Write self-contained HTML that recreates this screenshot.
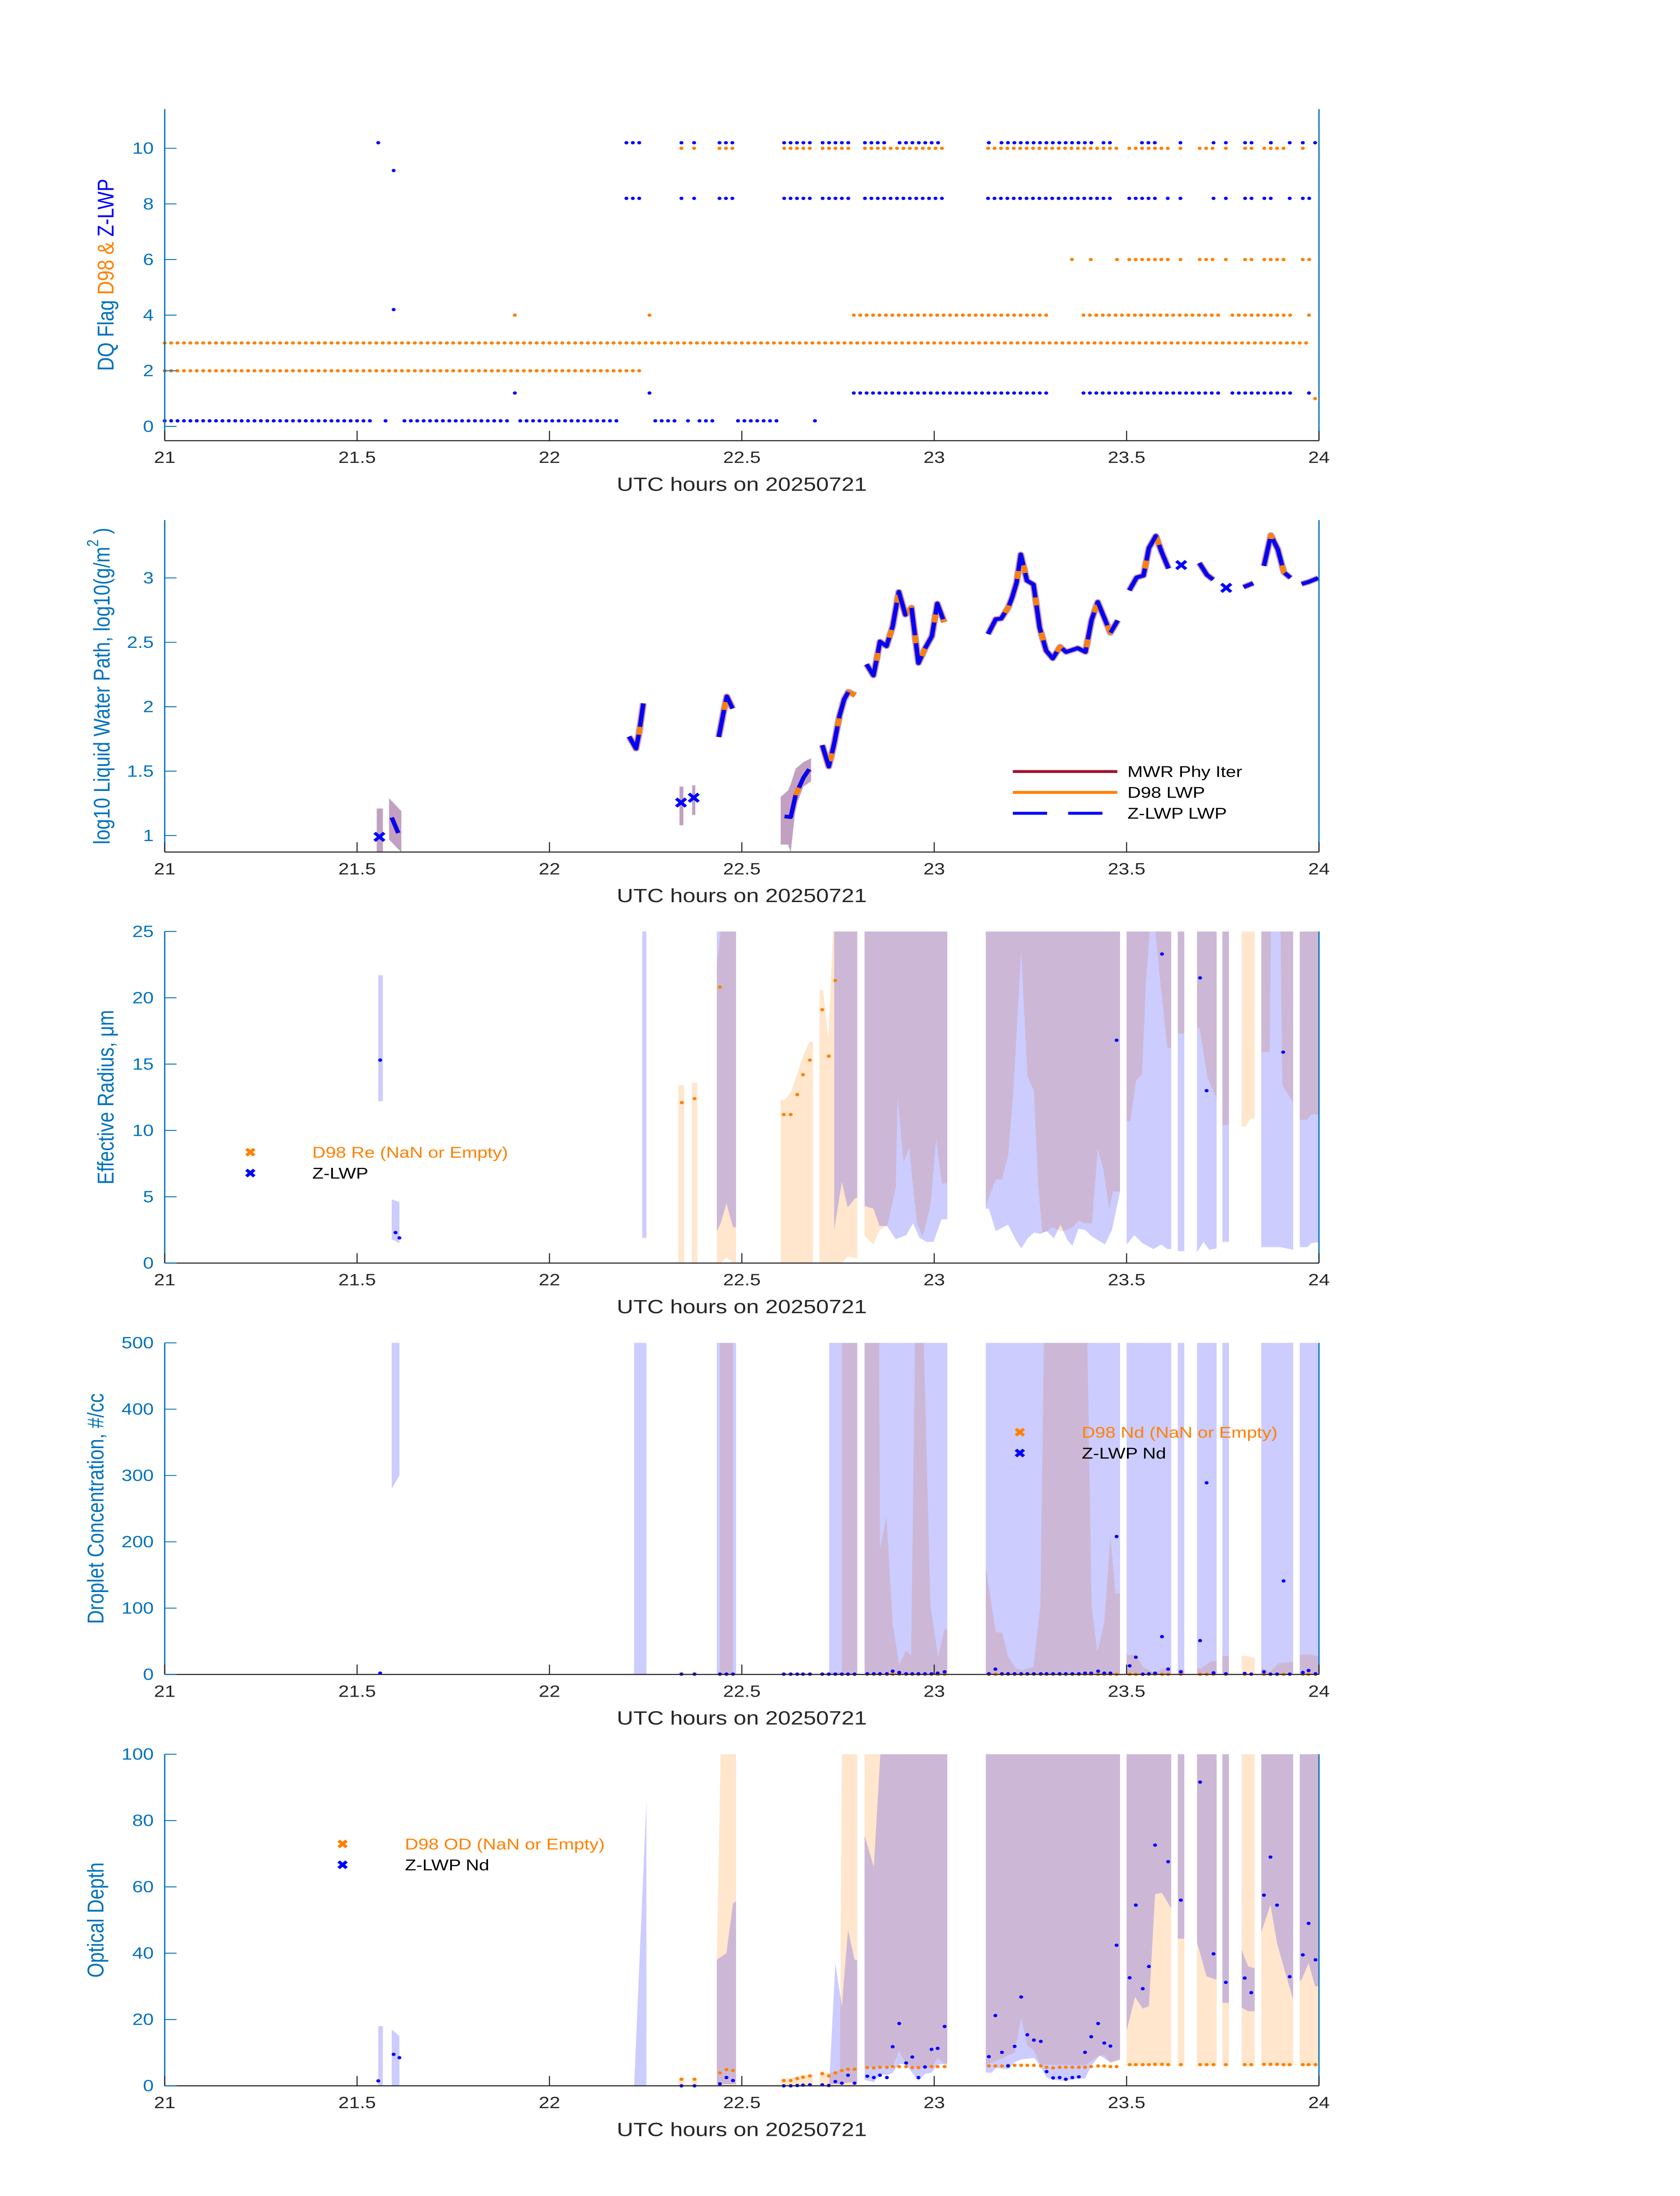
<!DOCTYPE html>
<html><head><meta charset="utf-8"><meta name="viewport" content="width=3825"><title>Cloud retrieval DQ, LWP, Re, Nd and OD</title>
<style>
html,body{margin:0;padding:0;background:#fff;width:100%;height:100%;overflow:hidden;}
svg{display:block;width:100vw;height:100vh;font-family:"Liberation Sans","DejaVu Sans",sans-serif;}
</style></head>
<body>
<svg id="fig" xmlns="http://www.w3.org/2000/svg" viewBox="0 0 3825 6000" preserveAspectRatio="none">
<rect x="0" y="0" width="3825" height="6000" fill="#fff"/>
</svg>
<script>
// ---------- shared axis ----------
const xTicks = [21, 21.5, 22, 22.5, 23, 23.5, 24];
const xTickLabels = ["21", "21.5", "22", "22.5", "23", "23.5", "24"];

// ---------- panel 1: DQ flags (runs of 1-minute samples, [start,end] hours) ----------
const dqBlue102 = [[21.555,21.555],[22.2,22.24],[22.343,22.343],[22.376,22.376],[22.442,22.476],[22.61,22.68],[22.71,22.79],[22.82,22.87],[22.91,23.01],[23.142,23.142],[23.175,23.41],[23.44,23.46],[23.54,23.575],[23.64,23.64],[23.726,23.726],[23.758,23.758],[23.808,23.825],[23.875,23.89],[23.924,23.924],[23.958,23.958],[23.99,23.99]];
const dqOrange10 = [[22.343,22.343],[22.376,22.376],[22.442,22.476],[22.61,22.68],[22.71,22.79],[22.82,23.02],[23.14,23.477],[23.507,23.607],[23.64,23.64],[23.69,23.724],[23.758,23.758],[23.808,23.825],[23.858,23.924],[23.958,23.974]];
const dqBlue92 = [[21.595,21.61]];
const dqBlue82 = [[22.2,22.24],[22.343,22.343],[22.376,22.376],[22.442,22.476],[22.61,22.68],[22.71,22.79],[22.82,23.02],[23.14,23.46],[23.507,23.575],[23.607,23.607],[23.64,23.64],[23.726,23.726],[23.758,23.758],[23.808,23.825],[23.858,23.89],[23.924,23.924],[23.958,23.99]];
const dqOrange6 = [[23.358,23.358],[23.407,23.407],[23.475,23.475],[23.507,23.607],[23.64,23.64],[23.69,23.724],[23.758,23.758],[23.808,23.825],[23.858,23.924],[23.958,23.99]];
const dqBlue42 = [[21.595,21.61]];
const dqOrange4 = [[21.91,21.91],[22.26,22.26],[22.791,23.292],[23.388,23.744],[23.775,23.94],[23.974,23.99]];
const dqOrange3 = [[21.0,23.97]];
const dqOrange2 = [[21.0,22.24]];
const dqBlue12 = [[21.91,21.91],[22.26,22.26],[22.791,23.292],[23.388,23.744],[23.775,23.94],[23.974,23.99]];
const dqOrange1 = [[23.99,23.99]];
const dqBlue02 = [[21.0,21.54],[21.574,21.574],[21.623,21.893],[21.924,22.19],[22.275,22.33],[22.36,22.36],[22.39,22.425],[22.49,22.59],[22.69,22.69]];
const dqLevels = [10.2, 10, 9.2, 8.2, 6, 4.2, 4, 3, 2, 1.2, 1.0, 0.2];
const dqYTicks = [0, 2, 4, 6, 8, 10];

// ---------- panel 2: log10 LWP ----------
const lwpT = [21.59,21.607,null,22.207,22.225,22.233,22.244,null,22.44,22.454,22.461,22.476,null,22.611,22.627,22.64,22.66,22.675,null,22.709,22.726,22.74,22.754,22.766,22.777,22.795,null,22.824,22.842,22.851,22.859,22.876,22.892,22.908,22.925,22.941,22.959,22.977,22.994,23.008,23.026,null,23.14,23.16,23.174,23.193,23.203,23.214,23.225,23.241,23.258,23.274,23.291,23.308,23.327,23.343,23.373,23.393,23.409,23.425,23.458,23.477,null,23.507,23.526,23.544,23.558,23.576,23.591,23.609,null,23.689,23.709,23.725,null,23.804,23.829,null,23.857,23.875,23.893,23.909,23.926,null,23.955,23.973,23.998];
const lwpV = [1.14,1.02,null,1.769,1.675,1.796,2.026,null,1.765,1.98,2.08,1.986,null,1.149,1.143,1.316,1.448,1.515,null,1.702,1.536,1.714,1.932,2.058,2.116,2.09,null,2.33,2.243,2.376,2.506,2.47,2.624,2.892,2.714,2.769,2.339,2.457,2.548,2.801,2.656,null,2.564,2.68,2.684,2.774,2.853,2.963,3.182,2.979,2.949,2.614,2.435,2.375,2.465,2.425,2.455,2.425,2.674,2.813,2.574,2.67,null,2.903,3.003,3.019,3.232,3.326,3.202,3.073,null,3.116,3.023,2.987,null,2.929,2.959,null,3.093,3.332,3.222,3.043,3.001,null,2.953,2.969,2.999];
const lwpSingleT = [21.558, 22.342, 22.375, 23.642, 23.759];
const lwpSingleV = [0.99, 1.256, 1.294, 3.1, 2.923];
const lwpBandT = [21.551,21.567,null,21.583,21.615,null,22.338,22.348,null,22.371,22.379,null,22.601,22.62,22.627,22.64,22.66,22.68];
const lwpBandLo = [0.87,0.87,null,0.97,0.87,null,1.08,1.08,null,1.16,1.16,null,0.93,0.93,0.87,1.22,1.38,1.42];
const lwpBandHi = [1.21,1.21,null,1.29,1.19,null,1.38,1.38,null,1.39,1.39,null,1.3,1.35,1.4,1.52,1.57,1.6];
const lwpYTicks = [1, 1.5, 2, 2.5, 3];
const lwpYTickLabels = ["1", "1.5", "2", "2.5", "3"];

// ---------- shared retrieval times (panels 3-5 dots) ----------
const retrT = [22.343,22.377,22.443,22.46,22.477,22.609,22.627,22.644,22.659,22.677,22.709,22.726,22.743,22.76,22.776,22.793,22.826,22.843,22.859,22.877,22.892,22.909,22.927,22.943,22.959,22.976,22.993,23.009,23.027,23.142,23.159,23.176,23.192,23.209,23.226,23.242,23.259,23.277,23.292,23.309,23.326,23.342,23.359,23.376,23.392,23.408,23.426,23.442,23.458,23.474,23.508,23.524,23.542,23.558,23.574,23.592,23.608,23.641,23.691,23.708,23.726,23.758,23.807,23.824,23.857,23.874,23.891,23.908,23.924,23.958,23.973,23.991];

// ---------- panel 3: effective radius ----------
const reBandBT = [21.555,21.567,null,21.59,21.61,null,22.241,22.252,null,22.435,22.445,22.46,22.477,22.485,null,22.74,22.76,22.775,22.795,22.80,null,22.819,22.842,22.858,22.877,22.9,22.927,22.945,22.962,22.98,22.998,23.019,23.034,null,23.134,23.142,23.16,23.192,23.212,23.226,23.244,23.259,23.276,23.293,23.311,23.328,23.346,23.359,23.375,23.392,23.41,23.444,23.462,23.483,null,23.5,23.52,23.541,23.57,23.59,23.606,23.616,null,23.633,23.65,null,23.683,23.7,23.715,23.734,null,23.749,23.766,null,23.85,23.9,23.933,null,23.95,23.97,23.98,23.99,24.0];
const reBandBLo = [12.2,12.2,null,1.8,1.5,null,1.9,1.9,null,2.4,3.0,4.5,2.7,2.7,null,2.5,6.1,4.2,4.9,4.9,null,4.3,4.1,2.8,2.8,1.8,2.1,3.0,1.9,1.6,1.6,3.3,3.3,null,4.1,4.1,2.4,2.9,1.75,1.1,1.9,2.3,2.2,2.4,1.85,2.9,1.75,1.3,2.6,2.5,2.0,1.4,2.5,5.4,null,1.4,2.1,1.5,1.05,1.4,1.05,1.05,null,0.9,0.9,null,0.8,1.6,1.0,1.1,null,1.6,1.6,null,1.2,1.2,1.0,null,1.2,1.2,1.5,1.55,1.55];
const reBandBHi = [21.7,21.7,null,4.8,4.6,null,25,25,null,25,25,25,25,25,null,25,25,25,25,25,null,25,25,25,25,25,25,25,25,25,25,25,25,null,25,25,25,25,25,25,25,25,25,25,25,25,25,25,25,25,25,25,25,25,null,25,25,25,25,25,25,25,null,25,25,null,25,25,25,25,null,25,25,null,25,25,25,null,25,25,25,25,25];
const reBandOT = [22.335,22.35,null,22.37,22.384,null,22.435,22.445,22.46,22.477,22.485,null,22.601,22.611,22.628,22.659,22.676,22.685,null,22.702,22.711,22.725,22.737,22.74,22.76,22.775,22.80,null,22.819,22.842,22.858,22.877,22.883,22.9,22.905,22.92,22.935,22.955,22.97,22.99,23.005,23.02,23.034,null,23.134,23.16,23.176,23.192,23.205,23.226,23.242,23.259,23.27,23.281,23.293,23.305,23.33,23.346,23.36,23.376,23.39,23.41,23.425,23.44,23.455,23.465,23.483,null,23.5,23.51,23.525,23.54,23.55,23.56,23.575,23.59,23.606,23.616,null,23.633,23.65,null,23.683,23.69,23.71,23.734,null,23.749,23.766,null,23.799,23.81,23.822,23.833,null,23.85,23.872,23.875,23.9,23.905,23.933,null,23.95,23.97,23.98,24.0];
const reBandOLo = [0,0,null,0,0,null,0,0,0.45,0,0,null,0,0,0,0,0,0,null,0,0,0,0,0,0,0.5,0.35,null,2.05,1.4,2.5,2.8,3.4,5.7,12.5,7.6,8.7,3.0,2.0,4.3,9.3,6.0,6.0,null,4.3,6.3,6.3,8.1,12.6,23.6,14.1,13.0,6,2.3,2.4,2.7,2.4,2.5,2.7,3.2,3.0,3.0,8.6,7.0,4.1,5.4,5.4,null,10.7,10.7,13.8,14.2,21,25,25,20.5,16.2,16.2,null,17.3,17.3,null,17.7,17.7,14,12.4,null,10.4,10.4,null,10.3,10.3,10.9,10.9,null,15.9,15.9,25,25,13.4,12.1,null,10.8,10.8,11.2,11.2];
const reBandOHi = [13.4,13.4,null,13.6,13.6,null,22.5,25,25,25,25,null,12.3,12.3,12.9,15.6,16.7,16.7,null,20.6,20.6,16.9,25,25,25,25,25,null,25,25,25,25,25,25,25,25,25,25,25,25,25,25,25,null,25,25,25,25,25,25,25,25,25,25,25,25,25,25,25,25,25,25,25,25,25,25,25,null,25,25,25,25,25,25,25,25,25,25,null,25,25,null,25,25,25,25,null,25,25,null,25,25,25,25,null,25,25,25,25,25,25,null,25,25,25,25];
const reOrangeT = [22.344,22.377,22.443,22.609,22.627,22.644,22.659,22.677,22.709,22.726,22.743];
const reOrangeV = [12.1,12.4,20.8,11.2,11.2,12.7,14.2,15.3,19.1,15.6,21.3];
const reBlueT = [21.56,21.6,21.61,23.474,23.592,23.691,23.708,23.907];
const reBlueV = [15.3,2.3,1.9,16.8,23.3,21.5,13.0,15.9];
const reYTicks = [0, 5, 10, 15, 20, 25];

// ---------- panel 4: droplet concentration ----------
const ndBandBT = [21.59,21.61,null,22.22,22.252,null,22.435,22.485,null,22.727,22.80,null,22.819,23.034,null,23.134,23.483,null,23.5,23.616,null,23.633,23.65,null,23.683,23.734,null,23.749,23.766,null,23.85,23.933,null,23.95,24.0];
const ndBandBLo = [280,300,null,0,0,null,0,0,null,0,0,null,0,0,null,0,0,null,0,0,null,0,0,null,0,0,null,0,0,null,0,0,null,0,0];
const ndBandBHi = [500,500,null,500,500,null,500,500,null,500,500,null,500,500,null,500,500,null,500,500,null,500,500,null,500,500,null,500,500,null,500,500,null,500,500];
const ndBandOT = [22.335,22.35,null,22.37,22.384,null,22.443,22.477,null,22.601,22.685,null,22.702,22.757,null,22.76,22.80,null,22.819,22.857,22.859,22.876,22.892,22.909,22.927,22.94,22.95,22.973,22.99,23.01,23.027,23.034,null,23.134,23.16,23.177,23.192,23.212,23.229,23.243,23.258,23.276,23.285,23.398,23.409,23.424,23.442,23.458,23.471,23.483,null,23.5,23.522,23.543,23.572,23.592,23.616,null,23.633,23.65,null,23.683,23.693,23.72,23.734,null,23.749,23.766,null,23.799,23.833,null,23.85,23.87,23.895,23.933,null,23.95,23.975,24.0];
const ndBandOLo = [0,0,null,0,0,null,0,0,null,0,0,null,0,0,null,0,0,null,0,0,0,0,0,0,0,0,0,0,0,0,0,0,null,0,0,0,0,0,0,0,0,0,0,0,0,0,0,0,0,0,null,0,0,0,0,0,0,null,0,0,null,0,0,0,0,null,0,0,null,0,0,null,0,0,0,0,null,0,0,0];
const ndBandOHi = [3,3,null,3,3,null,500,500,null,3,3,null,3,3,null,500,500,null,500,500,189,238,76,15,36,28,500,500,105,27,68,68,null,161,64,63,27,9,6,9,11,105,500,500,105,34,78,208,122,122,null,29,30,11,2,8,13,null,8,8,null,9,9,20,20,null,28,28,null,29,25,null,11,3,17,19,null,30,30,27];
const ndBlueV = [0.5,0.5,0.5,0.5,0.5,0.5,0.5,0.5,0.5,0.5,0.5,0.5,0.5,0.5,0.5,0.5,1,1,1,1,5,3,1,1,1,1,1,2,4,1,8,1,1,1,1,1,1,1,1,1,1,1,1,1,2,2,5,2,2,208,13,26,0.5,1,2,57,8,4,51,289,2.5,1,1.5,0.5,4,0.5,0.5,141,0.5,3,6,1];
const ndOrangeV = [0.3,0.3,0.3,0.3,0.3,0.3,0.3,0.3,0.3,0.3,0.3,0.3,0.3,0.3,0.3,0.3,0.3,0.3,0.3,0.3,0.3,0.3,0.3,0.3,0.3,0.3,0.3,0.3,0.3,0.3,0.3,0.3,0.3,0.3,0.3,0.3,0.3,0.3,0.3,0.3,0.3,0.3,0.3,0.3,0.3,0.3,0.3,0.3,0.3,0.3,0.3,0.3,0.3,0.3,0.3,0.3,0.3,0.3,0.3,0.3,0.3,0.3,0.3,0.3,0.3,0.3,0.3,0.3,0.3,0.3,0.3,0.3];
const ndEarlyT = [21.56];
const ndEarlyV = [2];
const ndYTicks = [0, 100, 200, 300, 400, 500];

// ---------- panel 5: optical depth ----------
const odBandBT = [21.555,21.567,null,21.59,21.61,null,22.22,22.252,null,22.435,22.46,22.477,22.485,null,22.727,22.743,22.76,22.776,22.793,22.80,null,22.819,22.843,22.86,22.877,22.892,22.909,22.927,22.959,22.976,22.993,23.009,23.034,null,23.134,23.15,23.16,23.192,23.209,23.226,23.26,23.276,23.292,23.309,23.342,23.376,23.392,23.408,23.43,23.458,23.483,null,23.5,23.522,23.542,23.558,23.574,23.592,23.616,null,23.633,23.65,null,23.683,23.708,23.734,null,23.749,23.766,null,23.799,23.816,23.833,null,23.85,23.874,23.891,23.908,23.933,null,23.95,23.955,23.973,23.99,24.0];
const odBandBLo = [0,0,null,0,0,null,0,0,null,0.5,0.5,0.5,0.5,null,0.4,0.5,0.5,1,1,1,null,1.8,1.1,3.6,3.2,3.9,6.7,6.3,1.5,3.6,4,6.4,6.7,null,4,4,5.4,5,7.1,8,8.4,6,2.5,1.8,1.5,2.2,2.2,6,9.2,7.1,8,null,16.6,26.8,23.3,24,57.8,58.2,53.5,null,44.4,44.4,null,43.3,33,32,null,25,25,null,23.6,22.5,22.5,null,46.3,54.6,43,36,26,null,31.7,32,37,30,30];
const odBandBHi = [18,18,null,17,15,null,0,86,null,38,40,55,55.7,null,0.5,37,24,47,38,38,null,75.5,66,100,100,100,100,100,100,100,100,100,100,null,100,100,100,100,100,100,100,100,100,100,100,100,100,100,100,100,100,null,100,100,100,100,100,100,100,null,100,100,null,100,100,100,null,100,100,null,41,36,35.4,null,100,100,100,100,100,null,100,100,100,100,100];
const odBandOT = [22.335,22.35,null,22.37,22.384,null,22.435,22.445,22.485,null,22.601,22.63,22.66,22.685,null,22.702,22.74,22.755,22.76,22.776,22.80,null,22.819,22.892,22.909,22.927,22.959,22.993,23.009,23.027,23.034,null,23.134,23.209,23.226,23.242,23.259,23.276,23.392,23.426,23.442,23.458,23.483,null,23.5,23.616,null,23.633,23.65,null,23.683,23.734,null,23.749,23.766,null,23.799,23.833,null,23.85,23.933,null,23.95,24.0];
const odBandOLo = [0,0,null,0,0,null,0,0,0,null,0,0,0,0,null,0,0,0,0,0,0,null,5.5,6,10.6,6.4,5.5,5.5,8.5,6.4,6.4,null,6.2,10,20.5,12.1,10.7,6.4,6.2,8.9,9.3,6.7,7.7,null,6,6,null,6,6,null,6,6,null,6,6,null,6,6,null,6,6,null,6,6];
const odBandOHi = [2.3,2.3,null,2.3,2.3,null,38,100,100,null,2,2.4,3.2,3.6,null,4,4,5,100,100,100,null,100,100,100,100,100,100,100,100,100,null,100,100,100,100,100,100,100,100,100,100,100,null,100,100,null,100,100,null,100,100,null,100,100,null,100,100,null,100,100,null,100,100];
const odBlueV = [0,0,0.6,2.5,1.6,0,0,0.1,0.2,0.3,0.3,0.1,1.3,0.8,3.2,0.8,2.9,2.5,3.2,2.5,11.8,18.8,6.9,8.7,2.5,5.7,11,11.3,17.9,8.8,21.2,10.1,6,11.9,26.8,15.4,13.8,13.4,4.3,2.4,2.5,2,2.5,2.7,10.1,14.8,18.8,12.9,12,42.4,32.6,54.5,29.3,36,72.6,null,67.6,56,91.6,null,39.8,31.2,32.5,28.1,57.5,69,54.5,null,32.9,39.5,49,38];
const odOrangeV = [2,2,3.9,4.9,4.6,1.6,1.6,2.2,2.6,3,3.7,3,3.9,4.6,5,5,5.5,5.4,5.6,5.6,5.8,5.8,5.8,5.5,5.5,5.6,5.8,5.8,5.8,6,6,6,6.2,6.2,6.2,6.2,6.2,6,5.6,5.4,5.6,5.6,5.6,5.6,5.6,5.8,6,6,5.8,5.8,6.4,6.4,6.4,6.4,6.5,6.5,6.4,6.4,6.4,6.4,6.4,6.4,6.4,6.4,6.5,6.5,6.5,6.4,6.4,6.4,6.4,6.4];
const odEarlyT = [21.555, 21.595, 21.61];
const odEarlyV = [1.5, 9.5, 8.5];
const odYTicks = [0, 20, 40, 60, 80, 100];

// ---------- layout ----------
const NS = "http://www.w3.org/2000/svg";
const svg = document.getElementById('fig');
const X0 = 375, X1 = 3003;
const AXBLUE = "#0072BD", DARK = "#262626", ORANGE = "#FF8000", BLUE = "#0000FF";
const TICKFS = 44, TITLEFS = 52, LEGFS = 42;
function sx(t) { return X0 + (t - 21) * (X1 - X0) / 3; }
function mkY(p) { return v => p.bottom - (v - p.ymin) * (p.bottom - p.top) / (p.ymax - p.ymin); }
function el(tag, attrs, parent) {
  const e = document.createElementNS(NS, tag);
  for (const k in attrs) e.setAttribute(k, attrs[k]);
  (parent || svg).appendChild(e);
  return e;
}
const panels = [
  {id: 'dq', top: 298, bottom: 1204, ymin: -0.513, ymax: 11.41, ylx: 241},
  {id: 'lwp', top: 1421, bottom: 2328, ymin: 0.872, ymax: 3.449, ylx: 232},
  {id: 're', top: 2545, bottom: 3451, ymin: 0, ymax: 25, ylx: 241},
  {id: 'nd', top: 3669, bottom: 4575, ymin: 0, ymax: 500, ylx: 218},
  {id: 'od', top: 4793, bottom: 5699, ymin: 0, ymax: 100, ylx: 218}
];

function drawAxes(p, yTicks, yLabels, yTitleParts) {
  const g = el('g', {});
  
  
  const Y = mkY(p);
  const la = el('line', {x1: X0, y1: p.top, x2: X0, y2: p.bottom, stroke: AXBLUE, 'stroke-width': 3}, g);
  
  
  const ra = el('line', {x1: X1, y1: p.top, x2: X1, y2: p.bottom, stroke: AXBLUE, 'stroke-width': 3}, g);
  
  
  const ba = el('line', {x1: X0, y1: p.bottom, x2: X1, y2: p.bottom, stroke: DARK, 'stroke-width': 3}, g);
  
  
  xTicks.forEach((t, i) => {
    const tk = el('line', {x1: sx(t), y1: p.bottom, x2: sx(t), y2: p.bottom - 27, stroke: DARK, 'stroke-width': 2.5}, g);
    
    
    const tl = el('text', {x: sx(t), y: p.bottom + 61, 'text-anchor': 'middle', 'font-size': TICKFS, fill: DARK}, g);
    tl.textContent = xTickLabels[i];
    
    
  });
  const xl = el('text', {x: (X0 + X1) / 2, y: p.bottom + 137, 'text-anchor': 'middle', 'font-size': TITLEFS, fill: DARK}, g);
  xl.textContent = 'UTC hours on 20250721';
  
  
  yTicks.forEach((v, i) => {
    const tk = el('line', {x1: X0, y1: Y(v), x2: X0 + 27, y2: Y(v), stroke: AXBLUE, 'stroke-width': 2.5}, g);
    
    
    const tl = el('text', {x: 350, y: Y(v) + 15, 'text-anchor': 'end', 'font-size': TICKFS, fill: AXBLUE}, g);
    tl.textContent = yLabels[i];
    
    
  });
  const cy = (p.top + p.bottom) / 2;
  const yt = el('text', {x: p.ylx, y: cy, 'text-anchor': 'middle', 'dominant-baseline': 'central', 'font-size': TITLEFS, fill: AXBLUE, transform: 'rotate(-90 ' + p.ylx + ' ' + cy + ')'}, g);
  
  
  yTitleParts.forEach(part => {
    const ts = el('tspan', {fill: part[1]}, yt);
    if (part[2]) { ts.setAttribute('baseline-shift', 'super'); ts.setAttribute('font-size', 36); }
    ts.textContent = part[0];
  });
}

function dqRow(runs, level, color, p, name) {
  const Y = mkY(p);
  const g = el('g', {fill: color});
  
  
  runs.forEach(r => {
    for (let t = r[0]; t <= r[1] + 1e-6; t += 1 / 60) {
      const c = el('circle', {cx: sx(t), cy: Y(level), r: 4.5}, g);
      
      
    }
  });
}

function bands(T, LO, HI, p, fill, name) {
  const Y = mkY(p);
  const g = el('g', {fill: fill});
  
  
  let seg = [];
  const flush = () => {
    if (seg.length > 1) {
      const pts = seg.map(i => sx(T[i]) + ',' + Y(HI[i])).concat(seg.slice().reverse().map(i => sx(T[i]) + ',' + Y(LO[i])));
      const poly = el('polygon', {points: pts.join(' ')}, g);
      
      
    }
    seg = [];
  };
  for (let i = 0; i < T.length; i++) { if (T[i] === null) flush(); else seg.push(i); }
  flush();
}

function dots(T, V, p, color, r, name) {
  const Y = mkY(p);
  const g = el('g', {fill: color});
  
  
  for (let i = 0; i < T.length; i++) {
    if (V[i] === null || V[i] === undefined) continue;
    const c = el('circle', {cx: sx(T[i]), cy: Y(V[i]), r: r}, g);
    
    
  }
}

function xMark(x, y, color, parent, size) {
  const s = size || 11;
  return el('path', {d: `M${x - s},${y - s}L${x + s},${y + s}M${x - s},${y + s}L${x + s},${y - s}`, stroke: color, 'stroke-width': 8, fill: 'none'}, parent);
}

function legend2(p, mx, my1, my2, tx, label1, label2, name) {
  const g = el('g', {});
  
  
  const m1 = xMark(mx, my1, ORANGE, g, 9);
  
  
  const t1 = el('text', {x: tx, y: my1 + 15, 'font-size': LEGFS, fill: ORANGE}, g);
  t1.textContent = label1;
  
  
  const m2 = xMark(mx, my2, BLUE, g, 9);
  
  
  const t2 = el('text', {x: tx, y: my2 + 15, 'font-size': LEGFS, fill: '#000'}, g);
  t2.textContent = label2;
  
  
}

// ===== Panel 1 =====
(function () {
  const p = panels[0];
  dqRow(dqOrange3, dqLevels[7], ORANGE, p, 'dq-d98-flag3');
  dqRow(dqOrange2, dqLevels[8], ORANGE, p, 'dq-d98-flag2');
  dqRow(dqOrange4, dqLevels[6], ORANGE, p, 'dq-d98-flag4');
  dqRow(dqOrange6, dqLevels[4], ORANGE, p, 'dq-d98-flag6');
  dqRow(dqOrange10, dqLevels[1], ORANGE, p, 'dq-d98-flag10');
  dqRow(dqOrange1, dqLevels[10], ORANGE, p, 'dq-d98-flag1');
  dqRow(dqBlue102, dqLevels[0], BLUE, p, 'dq-zlwp-flag10');
  dqRow(dqBlue92, dqLevels[2], BLUE, p, 'dq-zlwp-flag9');
  dqRow(dqBlue82, dqLevels[3], BLUE, p, 'dq-zlwp-flag8');
  dqRow(dqBlue42, dqLevels[5], BLUE, p, 'dq-zlwp-flag4');
  dqRow(dqBlue12, dqLevels[9], BLUE, p, 'dq-zlwp-flag1');
  dqRow(dqBlue02, dqLevels[11], BLUE, p, 'dq-zlwp-flag0');
  drawAxes(p, dqYTicks, dqYTicks.map(String), [['DQ Flag  ', AXBLUE], ['D98 &  ', ORANGE], ['Z-LWP', BLUE]]);
})();

// ===== Panel 2 =====
(function () {
  const p = panels[1];
  const Y = mkY(p);
  bands(lwpBandT, lwpBandLo, lwpBandHi, p, '#c2a0c2', 'lwp-uncertainty-band');
  const segs = [];
  let cur = [];
  lwpT.forEach((t, i) => { if (t === null) { segs.push(cur); cur = []; } else cur.push(sx(t) + ',' + Y(lwpV[i])); });
  segs.push(cur);
  const layers = [['#c2a0c2', 16, null, 'lwp-shade-line'], ['#A2142F', 11, null, 'mwr-phy-iter-line'], [ORANGE, 11, null, 'd98-lwp-line'], [BLUE, 10, '75 22', 'zlwp-lwp-line']];
  layers.forEach(L => {
    const g = el('g', {fill: 'none', stroke: L[0], 'stroke-width': L[1], 'stroke-linejoin': 'round'});
    
    
    if (L[2]) g.setAttribute('stroke-dasharray', L[2]);
    segs.forEach(s => {
      if (s.length < 2) return;
      const pl = el('polyline', {points: s.join(' ')}, g);
      
      
    });
  });
  const mg = el('g', {});
  
  
  lwpSingleT.forEach((t, i) => {
    const m = xMark(sx(t), Y(lwpSingleV[i]), BLUE, mg, 11);
    
    
  });
  drawAxes(p, lwpYTicks, lwpYTickLabels, [['log10 Liquid Water Path, log10(g/m', AXBLUE], ['2', AXBLUE, true], [' )', AXBLUE]]);
  const lg = el('g', {});
  
  
  const items = [['MWR Phy Iter', '#A2142F', null, 2108], ['D98 LWP', ORANGE, null, 2165], ['Z-LWP LWP', BLUE, '78 48', 2222]];
  items.forEach(it => {
    const ln = el('line', {x1: 2306, y1: it[3], x2: 2544, y2: it[3], stroke: it[1], 'stroke-width': 8}, lg);
    if (it[2]) ln.setAttribute('stroke-dasharray', it[2]);
    
    
    const tx = el('text', {x: 2567, y: it[3] + 15, 'font-size': LEGFS, fill: '#000'}, lg);
    tx.textContent = it[0];
    
    
  });
})();

// ===== Panel 3 =====
(function () {
  const p = panels[2];
  bands(reBandOT, reBandOLo, reBandOHi, p, 'rgba(255,128,0,0.2)', 're-d98-band');
  bands(reBandBT, reBandBLo, reBandBHi, p, 'rgba(0,0,255,0.2)', 're-zlwp-band');
  dots(reOrangeT, reOrangeV, p, ORANGE, 4.5, 're-d98');
  dots(reBlueT, reBlueV, p, BLUE, 4.5, 're-zlwp');
  drawAxes(p, reYTicks, reYTicks.map(String), [['Effective Radius, μm', AXBLUE]]);
  legend2(p, 570, 3148, 3205, 711, 'D98 Re (NaN or Empty)', 'Z-LWP', 're-legend');
})();

// ===== Panel 4 =====
(function () {
  const p = panels[3];
  bands(ndBandOT, ndBandOLo, ndBandOHi, p, 'rgba(255,128,0,0.2)', 'nd-d98-band');
  bands(ndBandBT, ndBandBLo, ndBandBHi, p, 'rgba(0,0,255,0.2)', 'nd-zlwp-band');
  dots(retrT, ndOrangeV, p, ORANGE, 4.5, 'nd-d98');
  dots(retrT, ndBlueV, p, BLUE, 4.5, 'nd-zlwp');
  dots(ndEarlyT, ndEarlyV, p, BLUE, 4.5, 'nd-zlwp-early');
  drawAxes(p, ndYTicks, ndYTicks.map(String), [['Droplet Concentration, #/cc', AXBLUE]]);
  legend2(p, 2322, 3913, 3970, 2463, 'D98 Nd (NaN or Empty)', 'Z-LWP Nd', 'nd-legend');
})();

// ===== Panel 5 =====
(function () {
  const p = panels[4];
  bands(odBandOT, odBandOLo, odBandOHi, p, 'rgba(255,128,0,0.2)', 'od-d98-band');
  bands(odBandBT, odBandBLo, odBandBHi, p, 'rgba(0,0,255,0.2)', 'od-zlwp-band');
  dots(retrT, odOrangeV, p, ORANGE, 4.5, 'od-d98');
  dots(retrT, odBlueV, p, BLUE, 4.5, 'od-zlwp');
  dots(odEarlyT, odEarlyV, p, BLUE, 4.5, 'od-zlwp-early');
  drawAxes(p, odYTicks, odYTicks.map(String), [['Optical Depth', AXBLUE]]);
  legend2(p, 780, 5038, 5095, 922, 'D98 OD (NaN or Empty)', 'Z-LWP Nd', 'od-legend');
})();
</script>
</body></html>
